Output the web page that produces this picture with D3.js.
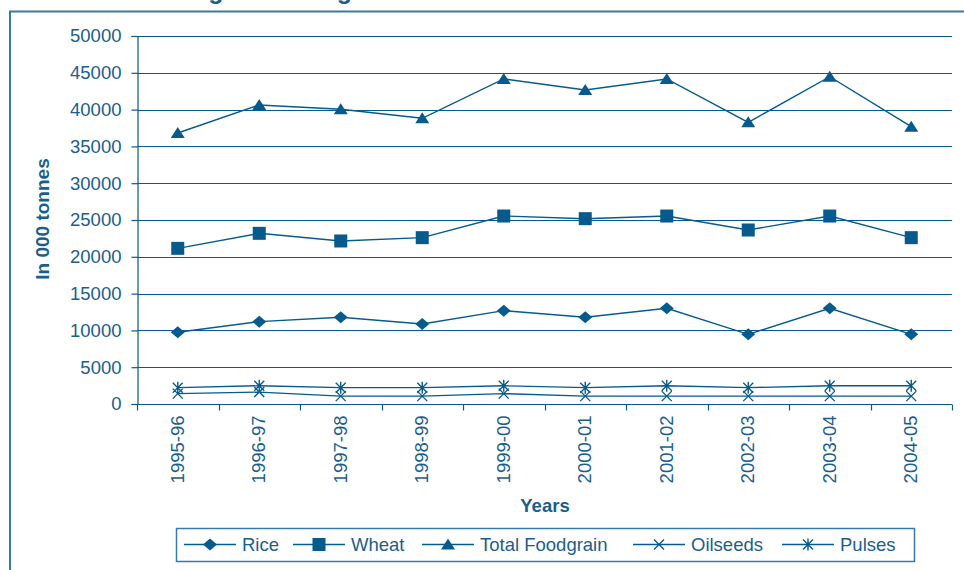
<!DOCTYPE html>
<html>
<head>
<meta charset="utf-8">
<script src="https://cdn.jsdelivr.net/npm/d3@7"></script>
<style>
  html, body { margin: 0; padding: 0; background: #ffffff; }
  svg { display: block; font-family: "Liberation Sans", Arial, sans-serif; }
</style>
</head>
<body>
<svg id="chart" width="964" height="570"></svg>
<script>
// Agricultural production, in 000 tonnes
const years = ["1995-96", "1996-97", "1997-98", "1998-99", "1999-00",
               "2000-01", "2001-02", "2002-03", "2003-04", "2004-05"];
const rice       = [9740, 11190, 11780, 10870, 12680, 11780, 13000, 9470, 13000, 9470];
const wheat      = [21150, 23190, 22150, 22600, 25540, 25180, 25540, 23640, 25540, 22600];
const foodgrain  = [36820, 40630, 40040, 38820, 44160, 42660, 44160, 38270, 44470, 37680];
const oilseeds   = [1410, 1620, 1070, 1070, 1410, 1070, 1070, 1070, 1070, 1070];
const pulses     = [2220, 2480, 2220, 2220, 2480, 2220, 2480, 2220, 2480, 2480];
const yTicks     = [0, 5000, 10000, 15000, 20000, 25000, 30000, 35000, 40000, 45000, 50000];
const seriesNames = ["Rice", "Wheat", "Total Foodgrain", "Oilseeds", "Pulses"];

const INK = "#065a8c";
const TEXT = "#1a5e8e";
const FRAME = "#3a78a6";

const svg = d3.select("#chart");

const plot = { left: 137, right: 952, top: 36, bottom: 404 };

const x = d3.scaleBand().domain(years).range([plot.left, plot.right]).paddingInner(0).paddingOuter(0);
const xp = d3.scalePoint().domain(years).range([plot.left, plot.right]).padding(0.5);
const y = d3.scaleLinear().domain([0, 50000]).range([plot.bottom, plot.top]);

// Outer frame (top and left edges)
svg.append("path")
  .attr("d", `M10,570 L10,11.5 L964,11.5`)
  .attr("fill", "none").attr("stroke", FRAME).attr("stroke-width", 2);

// Title (runs off the top edge)
svg.append("text")
  .attr("x", 492).attr("y", -1)
  .attr("text-anchor", "middle")
  .attr("font-size", 25).attr("font-weight", "bold")
  .attr("fill", TEXT)
  .text("Figure 4.1: Agricultural Production in Uttar Pradesh");

// Horizontal gridlines
svg.append("g")
  .selectAll("line")
  .data(yTicks.filter(t => t > 0))
  .join("line")
  .attr("x1", plot.left).attr("x2", plot.right)
  .attr("y1", d => Math.round(y(d)) + 0.5).attr("y2", d => Math.round(y(d)) + 0.5)
  .attr("stroke", INK).attr("stroke-width", 1.2);

// Y axis
const yAxis = svg.append("g")
  .attr("transform", `translate(${plot.left + 0.5},0)`)
  .call(d3.axisLeft(y).tickValues(yTicks).tickSize(6).tickPadding(10).tickFormat(d3.format("d")));
yAxis.select(".domain").attr("stroke", INK).attr("stroke-width", 1.2);
yAxis.selectAll(".tick line").attr("stroke", INK).attr("stroke-width", 1.2);
yAxis.selectAll(".tick text")
  .attr("font-size", 18.5).attr("fill", TEXT)
  .attr("font-family", "'Liberation Sans', Arial, sans-serif");

// X axis with ticks at band edges
const xAxisG = svg.append("g").attr("transform", `translate(0,${plot.bottom + 0.5})`);
xAxisG.append("line")
  .attr("x1", plot.left).attr("x2", plot.right)
  .attr("stroke", INK).attr("stroke-width", 1.2);
const edges = years.map(d => x(d)).concat([x(years[years.length - 1]) + x.bandwidth()]);
xAxisG.selectAll("line.tk")
  .data(edges)
  .join("line").attr("class", "tk")
  .attr("x1", d => Math.round(d) + 0.5).attr("x2", d => Math.round(d) + 0.5)
  .attr("y1", 0).attr("y2", 6)
  .attr("stroke", INK).attr("stroke-width", 1.2);
xAxisG.selectAll("text")
  .data(years)
  .join("text")
  .attr("transform", d => `translate(${xp(d) + 6},11) rotate(-90)`)
  .attr("text-anchor", "end")
  .attr("font-size", 18.5).attr("fill", TEXT)
  .text(d => d);

// Axis titles
svg.append("text")
  .attr("x", 545).attr("y", 512)
  .attr("text-anchor", "middle")
  .attr("font-size", 18.5).attr("font-weight", "bold").attr("fill", TEXT)
  .text("Years");
svg.append("text")
  .attr("transform", "translate(49,219) rotate(-90)")
  .attr("text-anchor", "middle")
  .attr("font-size", 19).attr("font-weight", "bold").attr("fill", TEXT)
  .text("In 000 tonnes");

// Marker shapes
const markers = {
  diamond: g => g.append("path").attr("d", "M0,-6 L7,0 L0,6 L-7,0 Z").attr("fill", INK),
  square: g => g.append("rect").attr("x", -6.5).attr("y", -6.5).attr("width", 13).attr("height", 13).attr("fill", INK),
  triangle: g => g.append("path").attr("d", "M0,-6 L7,5 L-7,5 Z").attr("fill", INK),
  cross: g => g.append("path").attr("d", "M-5,-5 L5,5 M-5,5 L5,-5").attr("stroke", INK).attr("stroke-width", 1.4).attr("fill", "none"),
  star: g => g.append("path").attr("d", "M-5,-5 L5,5 M-5,5 L5,-5 M0,-6 L0,6").attr("stroke", INK).attr("stroke-width", 1.4).attr("fill", "none")
};

const series = [
  { name: seriesNames[0], values: rice, marker: "diamond" },
  { name: seriesNames[1], values: wheat, marker: "square" },
  { name: seriesNames[2], values: foodgrain, marker: "triangle" },
  { name: seriesNames[3], values: oilseeds, marker: "cross" },
  { name: seriesNames[4], values: pulses, marker: "star" }
];

const line = d3.line().x((d, i) => xp(years[i])).y(d => y(d));

series.forEach(s => {
  svg.append("path")
    .datum(s.values)
    .attr("d", line)
    .attr("fill", "none").attr("stroke", INK).attr("stroke-width", 1.4);
  svg.append("g").selectAll("g")
    .data(s.values)
    .join("g")
    .attr("transform", (d, i) => `translate(${xp(years[i])},${y(d)})`)
    .each(function () { markers[s.marker](d3.select(this)); });
});

// Legend
const legend = svg.append("g");
legend.append("rect")
  .attr("x", 176.5).attr("y", 528.5).attr("width", 738).attr("height", 33)
  .attr("fill", "#fff").attr("stroke", FRAME).attr("stroke-width", 1.5);
const legendStarts = [184, 293, 422, 633, 782];
series.forEach((s, i) => {
  const x0 = legendStarts[i];
  const item = legend.append("g").attr("transform", `translate(${x0},544.5)`);
  item.append("line").attr("x1", 0).attr("x2", 52).attr("stroke", INK).attr("stroke-width", 1.6);
  markers[s.marker](item.append("g").attr("transform", "translate(26,0)"));
  item.append("text")
    .attr("x", 58).attr("y", 6.5)
    .attr("font-size", 18.5).attr("fill", TEXT)
    .text(s.name);
});
</script>
</body>
</html>
